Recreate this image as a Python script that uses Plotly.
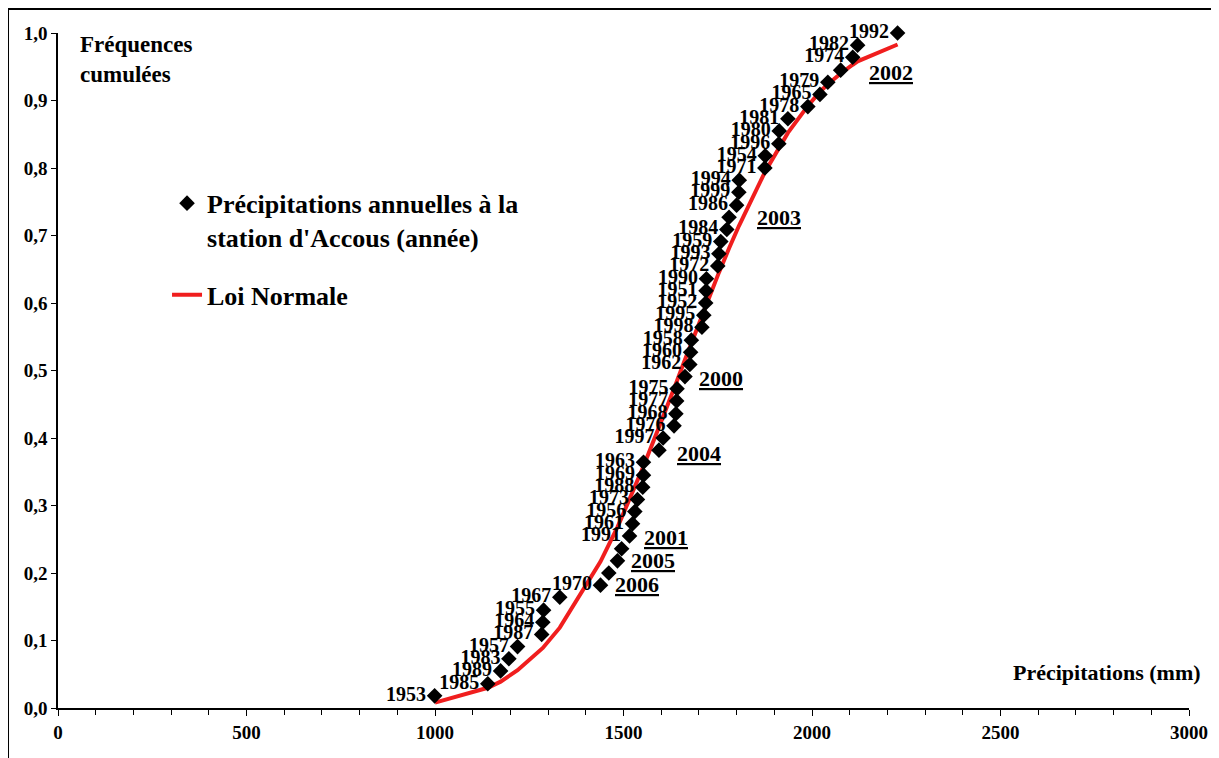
import plotly.graph_objects as go

# annual precipitation at Accous (mm), sorted, with year and cumulative frequency
years = [1953, 1985, 1989, 1983, 1957, 1987, 1964, 1955, 1967, 1970,
         2006, 2005, 2001, 1991, 1961, 1956, 1973, 1988, 1969, 1963,
         2004, 1997, 1976, 1968, 1977, 1975, 2000, 1962, 1960, 1958,
         1998, 1995, 1952, 1951, 1990, 1972, 1993, 1959, 1984, 2003,
         1986, 1999, 1994, 1971, 1954, 1996, 1980, 1981, 1978, 1965,
         1979, 2002, 1974, 1982, 1992]
precip = [999, 1140, 1174, 1196, 1219, 1283, 1286, 1288, 1331, 1439,
          1461, 1484, 1495, 1516, 1524, 1530, 1537, 1551, 1553, 1553,
          1594, 1605, 1634, 1639, 1641, 1642, 1663, 1676, 1678, 1680,
          1708, 1713, 1718, 1719, 1720, 1750, 1753, 1758, 1774, 1780,
          1800, 1806, 1807, 1875, 1876, 1912, 1913, 1936, 1989, 2021,
          2042, 2076, 2108, 2121, 2227]
freq = [0.018, 0.036, 0.055, 0.073, 0.091, 0.109, 0.127, 0.145, 0.164, 0.182,
        0.200, 0.218, 0.236, 0.255, 0.273, 0.291, 0.309, 0.327, 0.345, 0.364,
        0.382, 0.400, 0.418, 0.436, 0.455, 0.473, 0.491, 0.509, 0.527, 0.545,
        0.564, 0.582, 0.600, 0.618, 0.636, 0.655, 0.673, 0.691, 0.709, 0.727,
        0.745, 0.764, 0.782, 0.800, 0.818, 0.836, 0.855, 0.873, 0.891, 0.909,
        0.927, 0.945, 0.964, 0.982, 1.000]

# normal law curve
norm_x = [1000, 1140, 1174, 1196, 1219, 1286, 1331, 1439, 1461, 1484, 1495,
          1516, 1530, 1553, 1594, 1605, 1640, 1663, 1678, 1708, 1720, 1753,
          1780, 1806, 1876, 1912, 1936, 1989, 2021, 2042, 2076, 2108, 2121, 2227]
norm_y = [0.008, 0.030, 0.039, 0.047, 0.056, 0.089, 0.119, 0.217, 0.241, 0.268, 0.282,
          0.309, 0.327, 0.358, 0.416, 0.431, 0.482, 0.516, 0.538, 0.582, 0.599, 0.645,
          0.681, 0.714, 0.795, 0.830, 0.852, 0.892, 0.913, 0.924, 0.940, 0.953, 0.958, 0.983]

xticks = [0, 500, 1000, 1500, 2000, 2500, 3000]

SERIF = "Liberation Serif"
recent = [2000, 2001, 2002, 2003, 2004, 2005, 2006]
# hand-placed offsets (px) of the underlined labels
recent_shift = {2006: (4, -11), 2005: (12, 0), 2001: (20, 11), 2004: (16, -3),
                2000: (12, -2), 2003: (26, 0), 2002: (26, -2)}

fig = go.Figure()
fig.add_trace(go.Scatter(
    x=norm_x, y=norm_y, mode='lines', name='Loi Normale',
    line=dict(color='#f01e1e', width=4), legendgroup='b', legendrank=2, cliponaxis=False))
fig.add_trace(go.Scatter(
    x=precip, y=freq, mode='markers+text',
    name="Précipitations annuelles à la<br>station d'Accous (année)",
    marker=dict(symbol='diamond', size=12, color='black'),
    text=['' if yr in recent else str(yr) for yr in years],
    textposition='middle left',
    textfont=dict(family=SERIF, size=20, color='black', weight='bold'),
    legendgroup='a', legendrank=1, cliponaxis=False))

for yr, px_, fr in zip(years, precip, freq):
    if yr in recent:
        dx, dy = recent_shift[yr]
        fig.add_annotation(x=px_, y=fr, text='<u>%d</u>' % yr, showarrow=False,
                           xanchor='left', yanchor='middle', xshift=dx, yshift=dy,
                           font=dict(family=SERIF, size=22, color='black', weight='bold'))

fig.add_annotation(x=0.018, y=1.005, xref='paper', yref='paper', text='Fréquences<br>cumulées',
                   showarrow=False, xanchor='left', yanchor='top', align='left',
                   font=dict(family=SERIF, size=23, color='black', weight='bold'))
fig.add_annotation(x=1.0124, y=0.052, xref='paper', yref='paper', text='Précipitations (mm)',
                   showarrow=False, xanchor='right', yanchor='middle',
                   font=dict(family=SERIF, size=22, color='black', weight='bold'))

# chart area border
fig.add_shape(type='line', xref='paper', yref='paper', x0=-0.0442, x1=1.023, y0=1.0356, y1=1.0356,
              line=dict(color='black', width=2))
fig.add_shape(type='line', xref='paper', yref='paper', x0=-0.0442, x1=-0.0442, y0=-0.2, y1=1.0356,
              line=dict(color='black', width=2))
fig.add_shape(type='line', xref='paper', yref='paper', x0=1.023, x1=1.023, y0=-0.2, y1=1.0356,
              line=dict(color='#aaaaaa', width=1))

fig.update_layout(
    width=1211, height=750,
    margin=dict(l=50, r=30, t=25, b=50),
    plot_bgcolor='white', paper_bgcolor='white',
    separators=', ',
    showlegend=True,
    legend=dict(x=0.0964, y=0.7826, xanchor='left', yanchor='top', traceorder='grouped',
                tracegroupgap=21, valign='top', bgcolor='rgba(0,0,0,0)',
                font=dict(family=SERIF, size=26, color='black', weight='bold')),
    xaxis=dict(range=[0, 3000], tickvals=xticks, showgrid=False, zeroline=False,
               showline=True, linecolor='black', linewidth=1.5,
               ticks='outside', ticklen=6, tickcolor='black',
               minor=dict(dtick=100, ticks='outside', ticklen=5, tickcolor='black', showgrid=False),
               tickfont=dict(family=SERIF, size=19, color='black', weight='bold')),
    yaxis=dict(range=[0, 1], dtick=0.1, tickformat='.1f', showgrid=False, zeroline=False,
               showline=True, linecolor='black', linewidth=1.5,
               ticks='outside', ticklen=5, tickcolor='black',
               tickfont=dict(family=SERIF, size=19, color='black', weight='bold')),
)

fig.write_html("out.html")
